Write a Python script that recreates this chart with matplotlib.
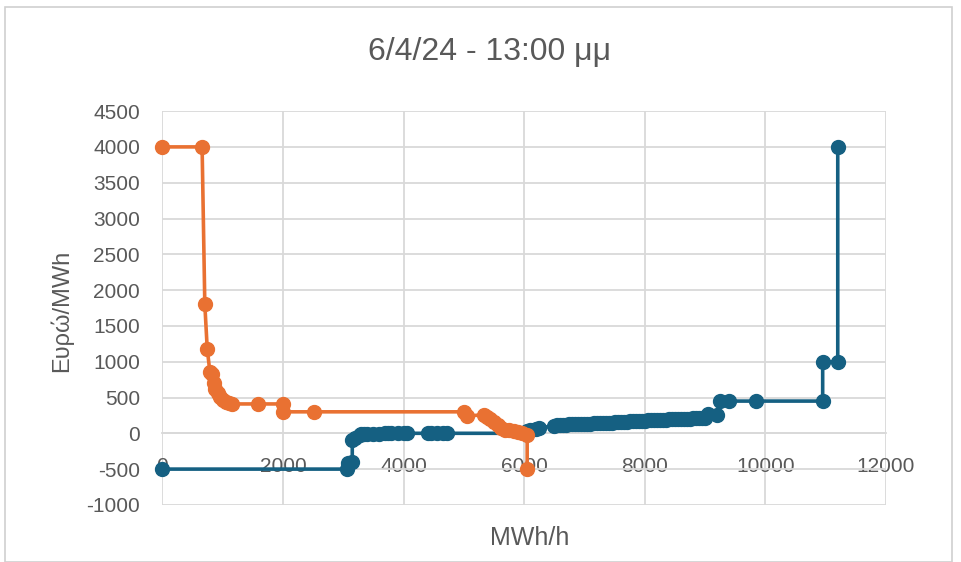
import matplotlib
matplotlib.use("Agg")
import matplotlib.pyplot as plt
from matplotlib.patches import Rectangle

plt.rcParams['font.family'] = ['Liberation Sans', 'DejaVu Sans']
plt.rcParams['axes.unicode_minus'] = False

# Καμπύλη ζήτησης (πορτοκαλί)
demand_x = [0, 660, 705, 745, 790, 820, 850, 880, 920, 960, 1010, 1060, 1110, 1150,
            1580, 2000, 2000, 2520, 5000, 5050, 5330, 5380, 5440, 5500, 5560, 5620,
            5680, 5750, 5830, 5900, 5970, 6050, 6050]
demand_y = [4000, 4000, 1800, 1180, 850, 830, 700, 620, 560, 510, 470, 440, 420, 410,
            410, 410, 300, 300, 300, 240, 260, 230, 200, 160, 120, 80,
            50, 40, 30, 20, 10, -30, -500]

# Καμπύλη προσφοράς (μπλε)
supply_x = [0, 3060, 3080, 3150, 3150, 3200, 3270, 3300, 3350, 3400, 3500, 3600, 3700,
            3750, 3800, 3900, 4000, 4050, 4400, 4450, 4550, 4650, 4720, 6000, 6050,
            6100, 6200, 6250, 6500, 6550, 6600, 6650, 6700, 6750, 6800, 6850, 6900,
            6950, 7000, 7050, 7100, 7150, 7200, 7250, 7300, 7350, 7400, 7450, 7500,
            7550, 7600, 7650, 7700, 7750, 7800, 7850, 7900, 7950, 8000, 8050, 8100,
            8150, 8200, 8250, 8300, 8350, 8400, 8450, 8500, 8550, 8600, 8650, 8700,
            8750, 8800, 8850, 8900, 8950, 9000, 9050, 9200, 9250, 9400, 9850, 10950,
            10950, 11200, 11200]
supply_y = [-500, -500, -420, -400, -100, -60, -20, -10, -10, -5, -5, -5, 0,
            0, 0, 0, 0, 0, 0, 0, 0, 0, 0, 0, 30,
            50, 60, 80, 100, 110, 120, 120, 120, 125, 125, 130, 130,
            130, 130, 135, 135, 140, 140, 140, 145, 145, 150, 150, 155,
            155, 160, 160, 160, 165, 165, 170, 170, 175, 175, 180, 180,
            180, 185, 185, 190, 190, 195, 195, 200, 200, 200, 200, 205,
            205, 210, 210, 215, 215, 220, 270, 250, 450, 450, 450, 450,
            1000, 1000, 4000]

x_ticks = [0, 2000, 4000, 6000, 8000, 10000, 12000]
y_ticks = list(range(-1000, 5000, 500))

title = "6/4/24 - 13:00 μμ"
x_label = "MWh/h"
y_label = "Ευρώ/MWh"

blue = '#156082'
orange = '#E97132'
grey_text = '#595959'
grid_col = '#D9D9D9'

W, H = 961, 562
fig = plt.figure(figsize=(W / 100, H / 100), dpi=100)
ax = fig.add_axes([162.3 / W, 1 - 504.9 / H, (886 - 162.3) / W, (504.9 - 111.1) / H])

# chart border
fig.patches.append(Rectangle((5 / W, 0), (952 - 5) / W, 1 - 7 / H, transform=fig.transFigure,
                             fill=False, edgecolor='#D0D0D0', linewidth=1.2))

ax.plot(supply_x, supply_y, color=blue, lw=2.6, marker='o', ms=10, zorder=3, clip_on=False)
ax.plot(demand_x, demand_y, color=orange, lw=2.6, marker='o', ms=10, zorder=4, clip_on=False)

ax.set_xlim(0, 12000)
ax.set_ylim(-1000, 4500)
ax.set_xticks(x_ticks)
ax.set_yticks(y_ticks)
ax.grid(True, color=grid_col, lw=1.3, zorder=0)
ax.set_axisbelow(True)

for s in ['top', 'right', 'left']:
    ax.spines[s].set_visible(False)
ax.spines['bottom'].set_position(('data', 0))
ax.spines['bottom'].set_color(grid_col)
ax.spines['bottom'].set_linewidth(1.3)

ax.tick_params(axis='x', length=0, pad=17, labelsize=15, labelcolor=grey_text)
ax.tick_params(axis='y', length=0, pad=16, labelsize=15, labelcolor=grey_text)

fig.text(490 / W, 1 - 52 / H, title, ha='center', va='center', fontsize=23, color=grey_text)
fig.text(530 / W, 1 - 538 / H, x_label, ha='center', va='center', fontsize=18, color=grey_text)
fig.text(61 / W, 1 - 311 / H, y_label, ha='center', va='center', rotation=90,
         fontsize=17, color=grey_text)

fig.savefig('out.png', dpi=100)
